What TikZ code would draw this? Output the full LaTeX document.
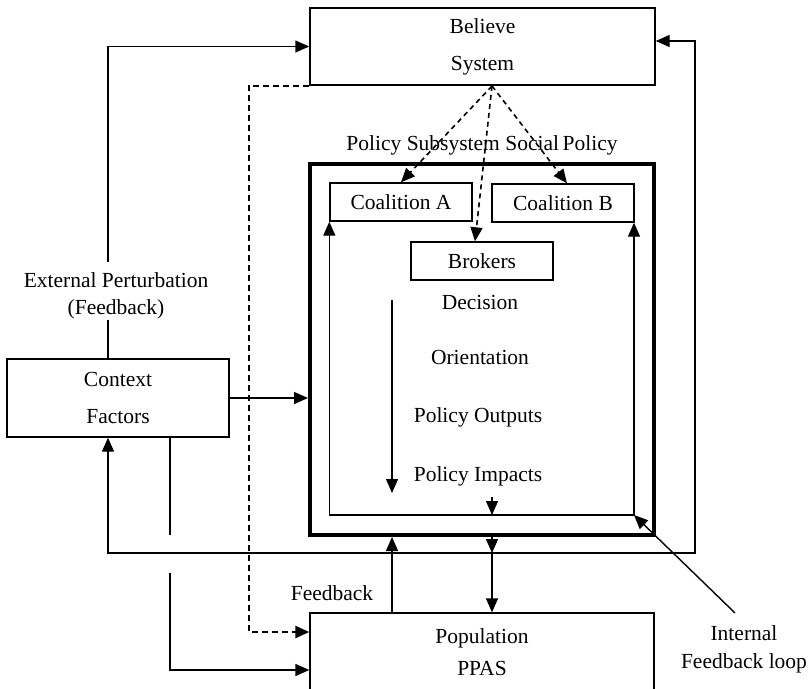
\documentclass[tikz,border=0pt]{standalone}
\usepackage{fontspec}
\setmainfont{Liberation Serif}
\usetikzlibrary{arrows.meta}

\begin{document}
\begin{tikzpicture}[x=1pt, y=-1pt,
    line width=1.4pt,
    tri/.tip={Triangle[length=14pt,width=12pt]},
    every node/.style={
        font=\fontsize{21.5}{37}\selectfont,
        align=center},
    box/.style={draw, inner sep=0pt},
    dsh/.style={line width=2.4pt, dash pattern=on 6pt off 4pt},
    dshthin/.style={line width=1.6pt, dash pattern=on 5pt off 4pt}]

    \useasboundingbox (0,0) rectangle (808,688);

    \node[box, minimum width=345pt, minimum height=77pt] (believe) at (482.5,46.5) {Believe\\System};
    \node[box, minimum width=222pt, minimum height=78pt] (context) at (118,398) {Context\\Factors};
    \node[box, minimum width=344pt, minimum height=78pt,
        font=\fontsize{21.5}{32}\selectfont] (pop) at (482,652) {Population\\PPAS};

    \node[box, line width=4pt, minimum width=344pt, minimum height=371pt] (sub) at (482,349.5) {};
    \node (sublbl) at (482,145) {Policy Subsystem Social\,Policy};

    \node[box, minimum width=142pt, minimum height=38pt] (coalA) at (401,202) {Coalition A};
    \node[box, minimum width=142pt, minimum height=38pt] (coalB) at (563,203) {Coalition B};
    \node[box, minimum width=142pt, minimum height=38pt] (brokers) at (482,261) {Brokers};

    \node (dec) at (480,302) {Decision};
    \node (ori) at (480,357) {Orientation};
    \node (out) at (478,417) {Policy Outputs};
    \node (imp) at (478,476) {Policy Impacts};

    \node[font=\fontsize{21.5}{27}\selectfont] (ext) at (116,296) {External Perturbation\\(Feedback)};
    \node (fb) at (332,593) {Feedback};
    \node[font=\fontsize{21.5}{28}\selectfont] (intl) at (744,649) {Internal\\Feedback loop};

    % helper points
    \coordinate (bs) at (492,86);
    \coordinate (e1) at (108,262);
    \coordinate (e2) at (108,320);
    \coordinate (lb) at (108,553);
    \coordinate (rb) at (695,553);
    \coordinate (rt) at (695,41);
    \coordinate (c1) at (170,535);
    \coordinate (c2) at (170,573);
    \coordinate (c3) at (170,670);
    \coordinate (d1) at (249,632);
    \coordinate (loopSE) at (634,515);
    \coordinate (s1) at (392,300);
    \coordinate (s2) at (392,493);
    \coordinate (s3) at (492,497);
    \coordinate (v1) at (492,553);
    \coordinate (g1) at (735,613);

    % outer loops
    \draw[-tri] (e1) |- (believe.west);
    \draw (e2) -- (context.north -| e2);
    \draw[tri-tri] (context.south -| lb) -- (lb) -- (rb) -- (rt) -- (rt -| believe.east);
    \draw[-tri] (context.east) -- (context.east -| sub.west);
    \draw (context.south -| c1) -- (c1);
    \draw[-tri] (c2) -- (c3) -- (c3 -| pop.west);
    \draw[dsh, -tri] (believe.south west) -| (d1) -- (d1 -| pop.west);

    % belief system to actors
    \draw[dshthin, -tri] (bs) -- (coalA.north);
    \draw[dshthin, -tri] (bs) -- (brokers.north -| 475,0);
    \draw[dshthin, -tri] (bs) -- (coalB.north -| 567,0);

    % inside the subsystem
    \draw[tri-tri] (coalA.south west) |- (loopSE) -- (loopSE |- coalB.south);
    \draw[-tri] (s1) -- (s2);
    \draw[-tri] (s3) -- (s3 |- loopSE);
    \draw[-tri] (g1) -- (loopSE);

    % population
    \draw[-tri] (pop.north -| s1) -- (sub.south -| s1);
    \draw[-tri] (sub.south -| v1) -- (v1);
    \draw[-tri] (v1) -- (pop.north -| v1);
\end{tikzpicture}
\end{document}
